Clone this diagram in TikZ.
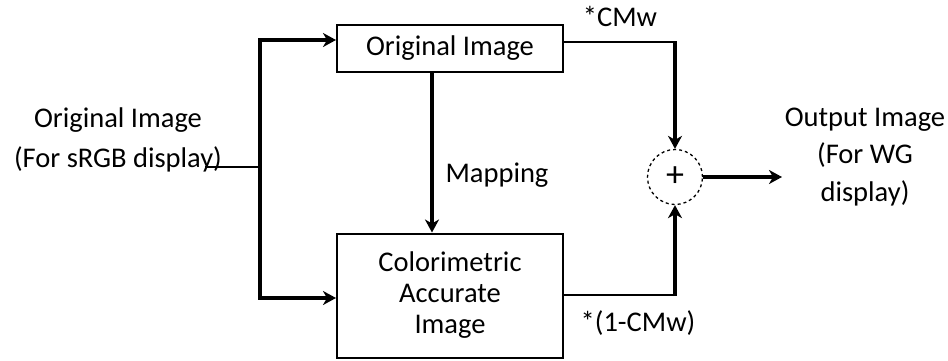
\documentclass[tikz,border=0pt]{standalone}
\usepackage{fontspec}
\setmainfont{Carlito}
\usetikzlibrary{arrows.meta}

\tikzset{
  blk/.style={draw, line width=2pt, minimum width=226pt, inner sep=0pt},
  lbl/.style={align=center, font=\fontsize{28.5}{40}\selectfont},
  arr/.style={line width=3.2pt, -{Stealth[length=13pt,width=14pt,inset=4pt]}},
  ln/.style={line width=2pt},
}

\begin{document}
\begin{tikzpicture}[x=1pt,y=-1pt]
        \useasboundingbox (0,0) rectangle (948,360);
        \node[blk, minimum height=47pt, font=\fontsize{28.5}{31}\selectfont] (orig) at (450,48.5) {Original Image};   % top block
        \node[blk, minimum height=124pt, align=center, font=\fontsize{28.5}{31}\selectfont] (cai) at (450,295.5) {Colorimetric\\Accurate\\Image};  % bottom block
        \node[draw, dashed, line width=1.3pt, circle, minimum size=55pt, inner sep=0pt, font=\fontsize{36}{40}\selectfont] (sum) at (675,177) {+};
        \node[lbl] (inlbl) at (118,140) {Original Image\\(For sRGB display)};
        \node[lbl, font=\fontsize{28.5}{37.5}\selectfont] (outlbl) at (865,157) {Output Image\\(For WG\\display)};
        \node[lbl] (maplbl) at (497,175) {Mapping};
        \node[lbl] (wlbl) at (620,16) {*CMw};
        \node[lbl] (wlbl2) at (638,323) {*(1-CMw)};

        \coordinate (in) at (205,167);
        \coordinate (split) at (260,167);
        \coordinate (top) at (260,40);
        \coordinate (bot) at (260,298);
        \coordinate (up) at (675,42);
        \coordinate (dn) at (675,295);
        \coordinate (out) at (782,177);

        \draw[ln] (in) -- (split);
        \draw[arr, line join=miter] (split) |- (orig.west |- top);
        \draw[arr, line join=miter] (split) |- (cai.west |- bot);
        \draw[arr] (orig.south -| 432,0) -- (cai.north -| 432,0);   % mapping
        \draw[ln] (orig.east |- up) -- (up);
        \draw[arr] ([yshift=1pt]up) -- (sum.north);
        \draw[ln] (cai.east |- dn) -- (dn);
        \draw[arr] ([yshift=-1pt]dn) -- (sum.south);
        \draw[arr] (sum.east) -- (out);
    \end{tikzpicture}
\end{document}
